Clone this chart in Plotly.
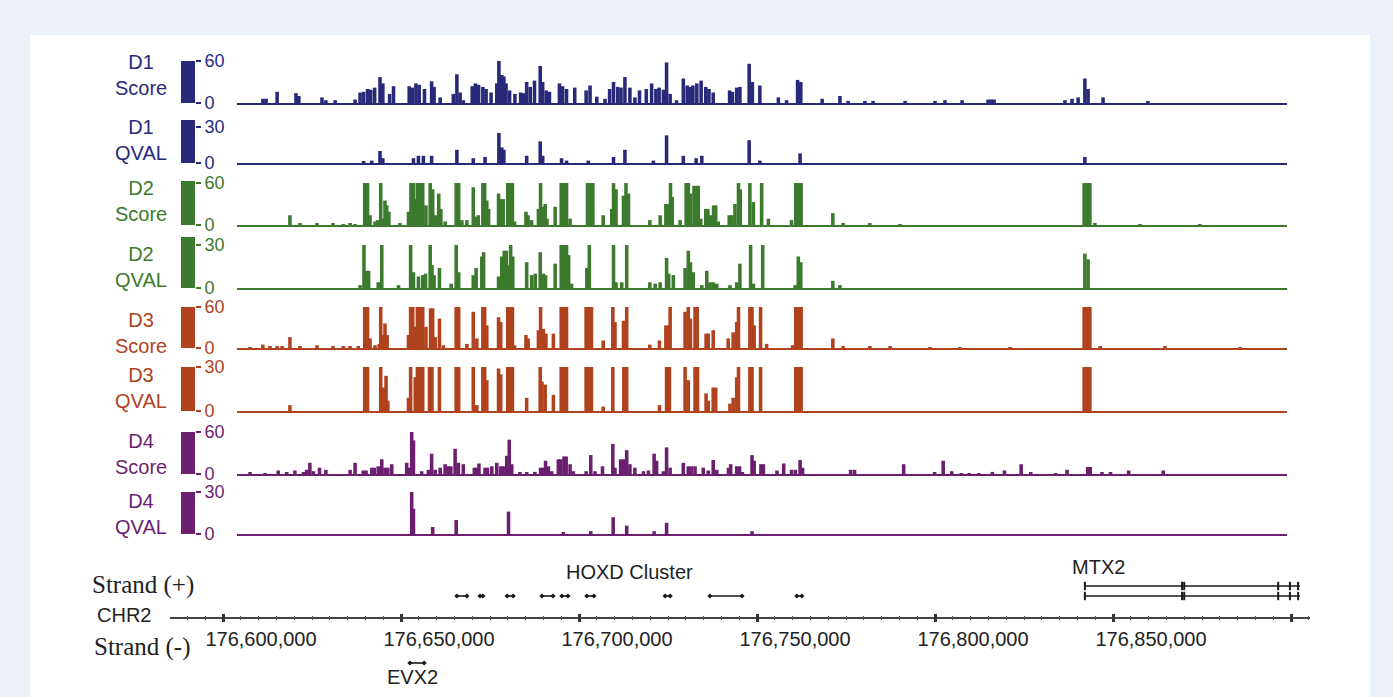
import plotly.graph_objects as go

W, H = 1393, 697

# ---------------- data (positions in kb on chr2, signal values) ----------------
D1_SCORE_POS = [
    176611.2, 176612.1, 176615.2, 176620.5, 176621.3, 176627.8, 176628.9, 176631.5,
    176637.1, 176638.5, 176639.5, 176640.6, 176641.5, 176642.6, 176644.1, 176644.9, 176646.8, 176647.9,
    176652.3, 176653.2, 176654.2, 176655.1, 176656.6, 176658.6, 176659.3, 176661.0, 176664.7, 176665.7, 176666.6, 176667.5,
    176670.0, 176670.9, 176671.8, 176673.0, 176673.9, 176675.3, 176676.9, 176677.5, 176678.3, 176678.9, 176679.5, 176680.5, 176682.0,
    176683.6, 176684.5, 176685.3, 176686.3, 176687.5, 176689.1, 176689.8, 176690.8, 176691.7, 176694.5, 176695.4, 176696.5, 176698.8,
    176702.0, 176703.1, 176705.0, 176707.3, 176708.6, 176709.7, 176710.9, 176711.8, 176712.9, 176714.3, 176715.7, 176717.0, 176718.9,
    176720.4, 176721.6, 176722.5, 176723.7, 176724.6, 176725.6, 176727.4, 176729.3, 176730.4, 176731.3, 176732.0, 176733.1, 176734.3,
    176735.6, 176736.5, 176737.7, 176742.3, 176743.1, 176744.3, 176745.2, 176747.8, 176748.7, 176750.8, 176756.0, 176758.3, 176761.4, 176762.3,
    176768.3, 176773.3, 176775.6, 176780.3, 176782.6, 176791.6, 176800.0, 176802.8, 176807.6, 176814.9, 176815.8, 176816.6, 176836.5, 176838.5, 176840.2, 176842.1, 176843.0, 176847.2, 176859.8,
]
D1_SCORE_VAL = [
    6, 6, 16, 14, 10, 8, 4, 4,
    5, 15, 16, 20, 19, 22, 37, 28, 13, 24,
    24, 22, 28, 26, 20, 31, 23, 8, 13, 41, 15, 4,
    24, 28, 26, 23, 20, 15, 28, 60, 40, 38, 28, 18, 13,
    15, 14, 30, 23, 32, 53, 30, 18, 16, 28, 24, 20, 22,
    18, 25, 9, 6, 20, 30, 23, 22, 37, 22, 8, 18, 20,
    28, 20, 22, 19, 58, 13, 4, 35, 25, 23, 25, 28, 32,
    23, 20, 15, 18, 16, 22, 23, 56, 30, 25, 8, 4, 33, 30,
    6, 10, 3, 3, 3, 3, 3, 4, 4, 5, 5, 5, 4, 6, 8, 35, 20, 8, 2,
]

D1_QVAL_POS = [
    176639.5, 176641.8, 176644.1, 176644.9, 176653.5, 176654.9, 176656.3, 176658.6, 176665.7, 176670.3,
    176673.6, 176677.5, 176678.3, 176678.9, 176685.3, 176689.1, 176689.8, 176695.1, 176696.5, 176702.6,
    176709.7, 176712.9, 176720.9, 176724.6, 176729.3, 176732.9, 176734.5, 176747.8, 176750.8, 176762.1, 176842.1,
]
D1_QVAL_VAL = [
    1, 2, 10, 4, 4, 6, 6, 6, 11, 4,
    5, 25, 13, 11, 6, 18, 6, 4, 2, 2,
    5, 11, 2, 23, 6, 4, 6, 19, 2, 8, 5,
]

D2_SCORE_POS = [
    176618.8, 176621.6, 176626.4, 176630.9, 176633.8, 176635.7, 176637.1,
    176639.8, 176640.6, 176641.3, 176642.7, 176643.4, 176644.3, 176644.9, 176645.5, 176646.0, 176646.6, 176649.7,
    176652.1, 176652.8, 176653.5, 176654.1, 176654.6, 176655.2, 176655.6, 176656.1, 176657.0, 176658.2, 176658.9, 176659.7, 176660.6, 176661.2, 176662.4,
    176665.5, 176666.2, 176667.1, 176668.5, 176670.3, 176671.0, 176671.7, 176673.0, 176673.5, 176674.1, 176674.6,
    176677.4, 176678.0, 176678.7, 176680.0, 176680.7, 176681.3, 176681.9,
    176685.1, 176685.7, 176686.7, 176688.6, 176689.2, 176689.8, 176690.5, 176691.0, 176693.3,
    176695.0, 176695.7, 176696.5, 176697.5,
    176702.4, 176703.2, 176703.9, 176706.8, 176709.2, 176709.7, 176710.4, 176712.5, 176713.2, 176713.9,
    176719.9, 176722.8, 176724.4, 176725.1, 176725.7, 176726.2, 176728.4,
    176730.1, 176730.7, 176731.3, 176732.3, 176733.0, 176733.5, 176734.2,
    176735.6, 176736.2, 176736.9, 176737.8, 176738.4, 176739.1,
    176742.2, 176742.9, 176743.8, 176744.8, 176745.3, 176748.0, 176749.0, 176751.3, 176753.2,
    176759.7, 176760.9, 176761.7, 176762.4,
    176771.3, 176774.2, 176781.7, 176790.2, 176841.9, 176842.7, 176843.5, 176844.9, 176857.6, 176874.4,
]
D2_SCORE_VAL = [
    14, 2, 3, 2, 1, 2, 1,
    60, 60, 14, 5, 7, 60, 9, 35, 28, 19, 2,
    19, 60, 60, 37, 60, 60, 37, 60, 28, 60, 51, 14, 45, 23, 5,
    60, 60, 7, 7, 54, 12, 14, 60, 60, 35, 23,
    45, 37, 37, 60, 60, 60, 5,
    19, 14, 7, 23, 60, 26, 30, 9, 26,
    60, 60, 60, 9,
    60, 60, 60, 14, 23, 60, 51, 42, 60, 45,
    7, 14, 30, 30, 60, 40, 7,
    60, 60, 45, 56, 56, 56, 9,
    23, 23, 14, 28, 28, 5,
    14, 14, 30, 60, 51, 60, 33, 60, 9,
    7, 60, 60, 60,
    17, 3, 2, 1, 60, 60, 60, 3, 1, 1,
]

D2_QVAL_POS = [
    176638.5, 176639.6, 176640.4, 176640.9, 176643.6, 176644.6, 176649.3,
    176652.7, 176653.5, 176654.9, 176656.1, 176656.9, 176658.2, 176658.7, 176659.3, 176660.8, 176664.1,
    176665.5, 176666.2, 176670.3, 176671.1, 176672.7, 176673.2, 176677.4,
    176678.3, 176679.0, 176679.6, 176680.3, 176680.8, 176681.4, 176685.3, 176686.7, 176687.7,
    176689.1, 176690.0, 176690.6, 176693.3, 176695.0, 176695.7, 176696.5, 176697.1, 176697.9,
    176702.2, 176702.9, 176709.7, 176710.4, 176712.0, 176713.4, 176719.9, 176721.4, 176722.8,
    176724.6, 176725.2, 176726.5, 176729.8, 176730.7, 176731.3, 176732.1, 176734.5,
    176735.9, 176736.8, 176737.7, 176738.7, 176742.4, 176744.3, 176745.2, 176748.2, 176749.0, 176751.6,
    176760.7, 176761.6, 176762.3, 176771.3, 176773.3, 176842.1, 176843.0,
]
D2_QVAL_VAL = [
    2, 30, 12, 12, 4, 30, 2,
    30, 11, 8, 9, 10, 30, 16, 9, 14, 3,
    30, 11, 9, 14, 22, 25, 8,
    22, 26, 26, 16, 30, 22, 18, 9, 10,
    25, 10, 9, 17, 30, 30, 30, 23, 3,
    14, 30, 30, 4, 4, 30, 4, 3, 4,
    21, 10, 9, 14, 26, 18, 11, 2,
    12, 4, 4, 3, 2, 4, 17, 30, 3, 30,
    2, 22, 18, 5, 2, 24, 20,
]

D3_SCORE_POS = [
    176607.6, 176611.2, 176613.2, 176615.2, 176616.6, 176618.8, 176621.6, 176626.4, 176630.9, 176633.8, 176635.7, 176638.0,
    176639.8, 176640.6, 176641.3, 176642.7, 176643.9, 176644.3, 176645.1, 176645.5, 176646.1,
    176652.1, 176652.7, 176653.3, 176654.0, 176654.6, 176655.2, 176656.1, 176657.0, 176658.3, 176658.9, 176659.6, 176660.8, 176661.9,
    176665.5, 176666.2, 176668.5, 176670.3, 176671.3, 176673.0, 176673.5, 176674.1, 176677.4, 176678.0,
    176680.0, 176680.7, 176681.3, 176681.9, 176685.1, 176685.7, 176688.6, 176689.2, 176690.0, 176690.7, 176692.8,
    176695.0, 176695.7, 176696.5, 176702.0, 176702.7, 176703.5, 176706.8,
    176709.5, 176710.1, 176712.5, 176713.4, 176719.9, 176722.6, 176724.4, 176725.0, 176725.6,
    176729.8, 176730.7, 176731.3, 176732.6, 176733.2, 176735.7, 176736.3, 176737.7,
    176741.9, 176743.3, 176744.3, 176744.8, 176748.0, 176748.6, 176749.2, 176751.0, 176752.7,
    176760.0, 176760.9, 176761.7, 176762.4,
    176771.3, 176774.2, 176781.7, 176787.4, 176798.6, 176807.0, 176821.1, 176841.9, 176842.7, 176843.5, 176846.4, 176864.6, 176885.7,
]
D3_SCORE_VAL = [
    1, 5, 3, 3, 2, 16, 3, 4, 3, 2, 2, 2,
    60, 60, 14, 4, 6, 60, 19, 36, 19,
    19, 60, 60, 31, 60, 60, 60, 31, 58, 58, 16, 43, 4,
    60, 60, 6, 53, 14, 60, 60, 33, 45, 38,
    60, 60, 60, 4, 19, 14, 26, 60, 28, 21, 21,
    60, 60, 60, 60, 60, 60, 11,
    60, 38, 40, 60, 5, 11, 33, 33, 60,
    53, 60, 43, 60, 60, 21, 21, 26,
    14, 23, 38, 60, 60, 60, 33, 60, 6,
    4, 60, 60, 60,
    14, 3, 2, 2, 1, 1, 1, 60, 60, 60, 2, 2, 1,
]

D3_QVAL_POS = [
    176618.8, 176639.8, 176640.6, 176644.3, 176645.1, 176645.8, 176646.3,
    176652.1, 176652.7, 176654.0, 176654.6, 176655.2, 176656.1, 176658.0, 176658.7, 176660.8,
    176665.5, 176666.2, 176670.3, 176671.3, 176673.0, 176673.5, 176674.1, 176677.4, 176678.0,
    176680.0, 176680.7, 176681.3, 176685.3, 176689.1, 176689.6, 176690.5, 176692.8,
    176695.0, 176695.7, 176696.5, 176702.0, 176702.7, 176703.5, 176706.8,
    176709.5, 176712.6, 176713.4, 176722.6, 176724.6, 176725.4,
    176729.8, 176730.7, 176732.6, 176733.3, 176735.7, 176736.3, 176737.7, 176738.4,
    176742.4, 176743.3, 176744.3, 176744.8, 176748.0, 176748.6, 176751.0,
    176760.9, 176761.7, 176762.4, 176841.9, 176842.7, 176843.5,
]
D3_QVAL_VAL = [
    4, 30, 30, 30, 16, 24, 7,
    9, 30, 23, 30, 30, 30, 30, 30, 30,
    30, 30, 30, 4, 30, 30, 21, 29, 25,
    30, 30, 30, 9, 30, 20, 18, 11,
    30, 30, 30, 30, 30, 30, 3,
    30, 30, 30, 4, 30, 30,
    30, 21, 30, 30, 12, 7, 16, 16,
    5, 9, 23, 30, 30, 30, 30,
    30, 30, 30, 30, 30, 30,
]

D4_SCORE_POS = [
    176607.6, 176611.8, 176615.5, 176617.9, 176620.2, 176622.6, 176623.5, 176624.4, 176625.4, 176627.1, 176628.9,
    176635.7, 176637.1, 176639.4, 176640.2, 176641.8, 176642.5, 176643.6, 176644.6, 176645.5, 176646.3, 176647.4,
    176651.6, 176652.3, 176653.0, 176653.5, 176655.8, 176657.7, 176658.6, 176659.6, 176661.0, 176662.4, 176663.3, 176664.0,
    176665.2, 176666.1, 176667.5, 176670.6, 176671.3, 176671.9, 176673.6, 176674.3, 176675.5, 176676.9, 176678.0, 176678.7,
    176679.7, 176680.4, 176681.1, 176683.4, 176685.3, 176687.6, 176689.2, 176690.0, 176690.6, 176691.4, 176692.3,
    176694.2, 176694.9, 176695.8, 176696.4, 176697.5, 176698.4, 176702.0, 176703.3, 176704.5, 176706.6,
    176709.5, 176710.1, 176711.7, 176712.5, 176713.4, 176714.3, 176715.7, 176718.1, 176719.5, 176721.1, 176721.8,
    176723.7, 176724.6, 176725.6, 176729.3, 176730.7, 176731.6, 176732.6, 176734.9, 176736.3, 176737.7, 176738.7, 176742.0,
    176742.6, 176744.3, 176745.1, 176745.9, 176748.6, 176749.2, 176751.1, 176751.8, 176755.6, 176757.5, 176759.7, 176760.8, 176762.1, 176762.8,
    176776.3, 176777.4, 176791.2, 176799.9, 176802.3, 176804.7, 176807.4, 176809.6, 176812.3, 176816.1, 176819.5, 176824.2, 176826.9,
    176833.9, 176837.1, 176842.9, 176843.6, 176846.9, 176849.3, 176854.4, 176864.1,
]
D4_SCORE_VAL = [
    2, 1, 5, 2, 5, 3, 6, 16, 4, 9, 6,
    6, 16, 5, 5, 9, 9, 11, 21, 9, 9, 14,
    16, 9, 60, 48, 4, 6, 29, 6, 9, 14, 11, 11,
    36, 16, 14, 9, 9, 15, 9, 9, 11, 16, 11, 11,
    26, 49, 14, 2, 2, 3, 9, 9, 19, 11, 4,
    21, 21, 25, 25, 14, 4, 4, 27, 4, 11,
    43, 9, 21, 21, 34, 14, 9, 4, 5, 29, 19,
    4, 38, 9, 16, 11, 11, 11, 9, 5, 20, 6, 9,
    14, 11, 11, 2, 27, 19, 14, 14, 5, 15, 6, 6, 20, 9,
    6, 6, 14, 2, 19, 4, 1, 1, 1, 3, 5, 14, 2,
    1, 6, 10, 10, 2, 2, 5, 5,
]

D4_QVAL_POS = [176653.0, 176653.5, 176658.9, 176665.5, 176680.2, 176695.6,
               176703.3, 176709.6, 176713.4, 176721.1, 176724.6, 176748.6]
D4_QVAL_VAL = [30, 18, 5, 10, 16, 1, 2, 12, 6, 2, 8, 2]

TRACK_NAMES = ["D1", "D1", "D2", "D2", "D3", "D3", "D4", "D4"]
TRACK_KINDS = ["Score", "QVAL", "Score", "QVAL", "Score", "QVAL", "Score", "QVAL"]
TRACK_POS = [D1_SCORE_POS, D1_QVAL_POS, D2_SCORE_POS, D2_QVAL_POS,
             D3_SCORE_POS, D3_QVAL_POS, D4_SCORE_POS, D4_QVAL_POS]
TRACK_VAL = [D1_SCORE_VAL, D1_QVAL_VAL, D2_SCORE_VAL, D2_QVAL_VAL,
             D3_SCORE_VAL, D3_QVAL_VAL, D4_SCORE_VAL, D4_QVAL_VAL]
TRACK_SCALE = [60, 30, 60, 30, 60, 30, 60, 30]

# genes (kb)
HOXD_START_KB = [176665.7, 176672.2, 176679.8, 176689.6, 176695.2, 176702.2, 176724.2, 176736.8, 176761.2]
HOXD_END_KB = [176668.5, 176673.0, 176681.5, 176692.7, 176696.9, 176704.2, 176725.6, 176745.8, 176762.6]
MTX2_START_KB = 176842.1
MTX2_END_KB = 176902.5
MTX2_EXON_KB = [176842.1, 176869.4, 176870.0, 176896.4, 176899.7, 176902.0]
EVX2_START_KB = 176652.5
EVX2_END_KB = 176656.5
CHROM_TICK0 = 176_600_000
CHROM_MAJOR = 50_000
CHROM_MINOR = 5_000

for p, v in zip(TRACK_POS, TRACK_VAL):
    assert len(p) == len(v), (len(p), len(v))

# ---------------- styling / layout ----------------
COLORS = ["#29297a", "#29297a", "#3c7a2e", "#3c7a2e", "#b0421e", "#b0421e", "#6c1f6e", "#6c1f6e"]
BOXES = [(61, 103), (120, 163), (181, 225), (237, 288), (307, 348), (367, 411), (432, 474), (492, 534)]
YMAX = [60, 35.8, 62.9, 35.6, 60, 30, 60, 30]
LABEL_Y = [74.5, 140.5, 201.5, 267, 333, 388, 453.5, 514]
SANS = "Liberation Sans, Arial, sans-serif"
SERIF = "Liberation Serif, Times New Roman, serif"
BG = "#eaeff8"
BAR_W = 1000  # bp

REF_PX, REF_BP = 223, 176_600_000
BP_PER_PX = 50_000 / 178.0


def fx(px):
    return px / W


def fy(py):
    return 1 - py / H


def bp_at(px):
    return REF_BP + (px - REF_PX) * BP_PER_PX


fig = go.Figure()
layout = dict(
    width=W, height=H, margin=dict(l=0, r=0, t=0, b=0, autoexpand=False),
    paper_bgcolor=BG, plot_bgcolor="rgba(0,0,0,0)", showlegend=False,
)
shapes = [dict(type="rect", xref="paper", yref="paper", x0=fx(30), x1=fx(1370), y0=0, y1=fy(35),
               fillcolor="white", line=dict(width=0), layer="below")]
annotations = []

track_range = [bp_at(237), bp_at(1287)]
for i in range(8):
    n = i + 1
    suf = "" if n == 1 else str(n)
    c = COLORS[i]
    top, base = BOXES[i]
    fig.add_trace(go.Bar(
        x=[p * 1000 for p in TRACK_POS[i]], y=TRACK_VAL[i], width=BAR_W,
        marker=dict(color=c, line=dict(width=0)),
        xaxis="x" + suf, yaxis="y" + suf, hoverinfo="skip",
    ))
    layout["xaxis" + suf] = dict(
        domain=[fx(237), fx(1287)], range=track_range, anchor="y" + suf,
        showline=True, linecolor=c, linewidth=1.6, showticklabels=False, ticks="",
        showgrid=False, zeroline=False, fixedrange=True,
    )
    layout["yaxis" + suf] = dict(
        domain=[fy(base), fy(top)], range=[0, YMAX[i]], anchor="free", position=fx(195),
        side="right", showgrid=False, zeroline=False, showline=False,
        ticks="outside", ticklen=5, tickwidth=1.5, tickcolor=c,
        tickmode="array", tickvals=[0, TRACK_SCALE[i]], ticktext=["0", str(TRACK_SCALE[i])],
        tickfont=dict(family=SANS, size=18, color=c), fixedrange=True,
    )
    shapes.append(dict(type="rect", xref="paper", yref="y" + suf + " domain",
                       x0=fx(181), x1=fx(195), y0=0, y1=1, fillcolor=c, line=dict(width=0)))
    annotations.append(dict(
        text=f"{TRACK_NAMES[i]}<br>{TRACK_KINDS[i]}", x=fx(141), y=fy(LABEL_Y[i]),
        xref="paper", yref="paper", xanchor="center", yanchor="middle", align="center",
        showarrow=False, font=dict(family=SANS, size=20, color=c),
    ))

# ---------------- chromosome / gene panel ----------------
ROW_PLUS1, ROW_PLUS2, ROW_MINUS = 3.1, 2.1, -4.6
chrom_range = [bp_at(170), bp_at(1310)]
axis_pos = fy(617.5)
GENE_C = "#1a1a1a"

hx, hy = [], []
for s, e in zip(HOXD_START_KB, HOXD_END_KB):
    hx += [s * 1000, e * 1000, None]
    hy += [ROW_PLUS2, ROW_PLUS2, None]
fig.add_trace(go.Scatter(x=hx, y=hy, mode="lines+markers", xaxis="x9", yaxis="y9",
                         line=dict(color=GENE_C, width=1.6),
                         marker=dict(symbol="diamond", size=4, color=GENE_C), hoverinfo="skip"))

fig.add_trace(go.Scatter(
    x=[MTX2_START_KB * 1000, MTX2_END_KB * 1000, None, MTX2_START_KB * 1000, MTX2_END_KB * 1000],
    y=[ROW_PLUS1, ROW_PLUS1, None, ROW_PLUS2, ROW_PLUS2],
    mode="lines", xaxis="x9", yaxis="y9", line=dict(color=GENE_C, width=1.3), hoverinfo="skip"))
fig.add_trace(go.Scatter(
    x=[k * 1000 for k in MTX2_EXON_KB] * 2,
    y=[ROW_PLUS1] * len(MTX2_EXON_KB) + [ROW_PLUS2] * len(MTX2_EXON_KB),
    mode="markers", xaxis="x9", yaxis="y9",
    marker=dict(symbol="line-ns-open", size=6, color=GENE_C, line=dict(width=2, color=GENE_C)),
    hoverinfo="skip"))

fig.add_trace(go.Scatter(
    x=[EVX2_START_KB * 1000, EVX2_END_KB * 1000], y=[ROW_MINUS, ROW_MINUS],
    mode="lines+markers", xaxis="x10", yaxis="y9",
    line=dict(color=GENE_C, width=1.6), marker=dict(symbol="diamond", size=4, color=GENE_C),
    hoverinfo="skip"))

layout["yaxis9"] = dict(domain=[fy(690), fy(555)], range=[-7.3, 6.2], visible=False, fixedrange=True)
common_x = dict(
    domain=[fx(170), fx(1310)], range=chrom_range, anchor="free", position=axis_pos,
    tickmode="linear", tick0=CHROM_TICK0, dtick=CHROM_MAJOR,
    ticks="outside", ticklen=4, tickwidth=2.5, tickcolor="#333",
    minor=dict(tick0=CHROM_TICK0, dtick=CHROM_MINOR, ticks="outside", ticklen=2,
               tickwidth=1, tickcolor="#555", showgrid=False),
    showgrid=False, zeroline=False, fixedrange=True,
)
layout["xaxis9"] = dict(
    common_x, side="bottom", showline=True, linecolor="#444", linewidth=1.5,
    tickformat=",d", labelalias={"176,900,000": ""},
    tickfont=dict(family=SANS, size=20, color="#222"),
    ticklabelshift=38, ticklabelstandoff=0,
)
layout["xaxis10"] = dict(common_x, side="top", overlaying="x9", showline=False, showticklabels=False)

annotations += [
    dict(text="HOXD Cluster", x=(HOXD_START_KB[0] + HOXD_END_KB[-1]) / 2 * 1000, y=4.5,
         xref="x9", yref="y9", showarrow=False, xanchor="center", yanchor="middle",
         font=dict(family=SANS, size=20, color="#222")),
    dict(text="MTX2", x=MTX2_START_KB * 1000, y=5.0, xshift=14,
         xref="x9", yref="y9", showarrow=False, xanchor="center", yanchor="middle",
         font=dict(family=SANS, size=20, color="#222")),
    dict(text="EVX2", x=(EVX2_START_KB + EVX2_END_KB) / 2 * 1000, y=-6.0, xshift=-5,
         xref="x9", yref="y9", showarrow=False, xanchor="center", yanchor="middle",
         font=dict(family=SANS, size=20, color="#222")),
    dict(text="Strand (+)", x=fx(142.5), y=fy(585), xref="paper", yref="paper",
         showarrow=False, xanchor="center", yanchor="middle",
         font=dict(family=SERIF, size=25, color="#222")),
    dict(text="CHR2", x=fx(123.5), y=fy(615), xref="paper", yref="paper",
         showarrow=False, xanchor="center", yanchor="middle",
         font=dict(family=SANS, size=20, color="#222")),
    dict(text="Strand (-)", x=fx(142), y=fy(647), xref="paper", yref="paper",
         showarrow=False, xanchor="center", yanchor="middle",
         font=dict(family=SERIF, size=25, color="#222")),
]

layout["shapes"] = shapes
layout["annotations"] = annotations
fig.update_layout(**layout)
fig.write_html(
    "out.html",
    config={"displayModeBar": False},
    post_script="document.body.style.margin='0';document.body.style.overflow='hidden';",
)
